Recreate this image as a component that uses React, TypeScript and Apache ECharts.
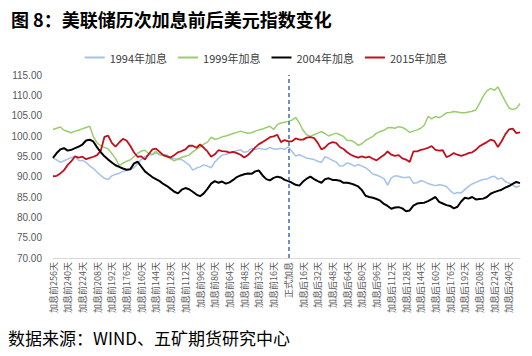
import React, { useEffect, useRef } from "react";
import * as echarts from "echarts";

// Trading-day offsets relative to the rate hike (every 4 days)
const DAY_OFFSETS: number[] = [];
for (let d = -256; d <= 252; d += 4) DAY_OFFSETS.push(d);
const CATEGORIES = DAY_OFFSETS.map((d) =>
  d < 0 ? `加息前${-d}天` : d === 0 ? "正式加息" : `加息后${d}天`
);

const TICK_LABELS = [
  "加息前256天", "加息前240天", "加息前224天", "加息前208天", "加息前192天", "加息前176天",
  "加息前160天", "加息前144天", "加息前128天", "加息前112天", "加息前96天", "加息前80天",
  "加息前64天", "加息前48天", "加息前32天", "加息前16天", "正式加息", "加息后16天",
  "加息后32天", "加息后48天", "加息后64天", "加息后80天", "加息后96天", "加息后112天",
  "加息后128天", "加息后144天", "加息后160天", "加息后176天", "加息后192天", "加息后208天",
  "加息后224天", "加息后240天",
];

const Y_TICKS = { min: 70, max: 115, step: 5 };

const S1994 = [
  94.6, 94.1, 93.5, 93.9, 94.3, 94.7, 94.9, 94.0, 94.0, 93.5,
  92.6, 92.0, 91.1, 90.3, 89.6, 89.3, 90.2, 90.6, 90.8, 91.3,
  91.5, 91.8, 92.2, 93.2, 94.2, 95.0, 95.4, 95.4, 95.8, 95.5,
  95.4, 95.3, 94.7, 94.4, 94.2, 94.2, 93.6, 92.9, 91.6, 92.1,
  92.4, 92.9, 92.6, 92.2, 93.6, 94.5, 95.3, 95.5, 95.8, 96.1,
  96.4, 96.6, 96.0, 96.2, 97.0, 96.7, 97.0, 96.8, 96.7, 97.2,
  96.8, 96.8, 97.0, 96.7, 97.3,
  96.2, 95.1, 95.4, 95.0, 94.5, 94.4, 94.2, 93.8, 93.5, 94.9,
  94.5, 94.0, 93.6, 92.6, 92.7, 93.4, 93.1, 92.6, 93.0, 92.6,
  92.2, 91.5, 90.6, 90.4, 90.0, 89.5, 87.9, 89.7, 90.2, 90.1,
  89.8, 89.8, 89.9, 88.4, 88.5, 89.0, 88.8, 88.3, 88.0, 87.8,
  88.0, 87.9, 87.6, 86.6, 85.8, 86.1, 86.0, 86.8, 87.6, 88.2,
  88.6, 89.0, 89.3, 89.4, 89.9, 90.1, 89.4, 89.7, 88.8, 88.4,
  87.9, 87.4, 87.8,
];

const S1999 = [
  101.6, 101.9, 102.2, 101.4, 101.1, 100.8, 101.2, 101.4, 101.8, 102.1,
  102.4, 99.8, 98.3, 97.6, 97.2, 96.8, 95.7, 94.5, 92.7, 93.3,
  93.8, 94.1, 94.9, 95.7, 96.3, 96.5, 95.7, 95.5, 96.2, 95.4,
  95.2, 94.9, 94.4, 93.9, 94.4, 94.7, 95.0, 95.3, 96.1, 96.7,
  97.3, 98.0, 98.5, 99.7, 99.2, 99.4, 99.8, 100.0, 100.3, 100.6,
  100.9, 101.2, 100.9, 100.7, 100.8, 101.2, 101.5, 101.7, 102.1, 102.4,
  101.6, 102.8, 103.2, 103.4, 103.6,
  103.9, 104.6, 103.2, 101.4, 100.3, 99.9, 100.3, 100.7, 101.1, 100.6,
  100.0, 100.4, 100.7, 100.3, 99.9, 98.9, 98.9, 98.5, 97.7, 98.1,
  98.9, 99.4, 99.9, 100.7, 101.1, 101.4, 102.0, 102.1, 101.9, 102.3,
  102.1, 101.6, 100.9, 101.2, 101.5, 101.9, 102.7, 104.8, 104.2, 104.8,
  104.5, 105.0, 105.7, 105.8, 106.0, 105.9, 105.7, 105.7, 105.9, 106.1,
  106.4, 108.0, 109.8, 111.1, 111.7, 111.2, 112.1, 110.3, 108.5, 106.9,
  106.5, 106.8, 108.0,
];

const S2004 = [
  94.6, 95.8, 96.7, 97.0, 96.4, 96.6, 97.0, 97.4, 97.9, 98.9,
  99.1, 98.6, 97.2, 96.0, 95.0, 94.2, 93.5, 92.8, 92.4, 92.0,
  91.7, 91.8, 93.2, 93.7, 92.5, 91.3, 90.6, 89.9, 89.4, 88.9,
  88.2, 87.7, 87.0, 86.3, 85.9, 86.8, 87.2, 86.9, 86.3, 85.6,
  85.2, 85.9, 87.0, 88.3, 88.9, 88.5, 88.8, 88.3, 88.6, 89.2,
  89.9, 90.3, 90.6, 90.8, 90.7, 91.3, 91.5, 90.3, 89.4, 89.1,
  89.7, 90.0, 89.8, 89.2, 88.9,
  88.5, 88.0, 87.8, 88.8, 89.5, 90.0, 89.4, 88.9, 88.5, 89.4,
  89.6, 89.2, 89.2, 89.0, 88.5, 88.5, 88.3, 88.0, 87.6, 86.7,
  85.3, 85.0, 84.8, 84.5, 84.1, 83.3, 82.8, 82.1, 82.4, 82.5,
  82.2, 81.5, 81.7, 82.9, 83.4, 83.5, 83.6, 84.0, 84.5, 85.0,
  83.8, 83.4, 83.0, 82.8, 82.2, 82.6, 83.9, 84.8, 84.6, 85.0,
  84.4, 84.5, 84.6, 85.0, 85.8, 86.2, 86.5, 86.8, 87.3, 87.7,
  88.2, 88.7, 88.4,
];

const S2015 = [
  90.1, 90.2, 90.8, 91.6, 92.9, 93.8, 95.0, 94.7, 94.9, 94.3,
  94.6, 94.9, 95.3, 96.4, 99.8, 100.1, 98.3, 97.4, 98.4, 99.3,
  98.9, 97.6, 96.0, 94.9, 95.0, 94.2, 95.5, 96.7, 96.9, 96.1,
  95.3, 95.0, 94.7, 95.3, 96.0, 96.3, 96.7, 97.6, 97.6, 97.1,
  97.9, 97.1, 96.2, 94.9, 95.5, 96.5, 96.3, 96.2, 95.9, 96.1,
  95.8, 95.4, 94.7, 95.3, 96.2, 97.2, 98.0, 98.5, 99.1, 99.7,
  99.9, 100.3, 98.5, 99.0, 98.7,
  98.7, 99.4, 99.1, 99.1, 99.6, 99.7, 99.5, 98.3, 96.7, 97.2,
  98.1, 98.5, 98.3, 97.3, 96.8, 96.0, 95.4, 95.0, 94.7, 95.0,
  94.7, 94.9, 94.4, 94.0, 94.7, 95.3, 96.2, 95.4, 95.1, 95.3,
  94.5, 94.2, 93.6, 96.2, 96.2, 96.6, 96.8, 97.1, 97.5, 96.6,
  96.4, 96.5, 94.8, 95.2, 95.8, 95.4, 95.1, 95.4, 95.8, 96.0,
  96.6, 97.5, 98.0, 98.5, 99.1, 98.8, 97.3, 98.7, 100.4, 101.6,
  101.8, 100.7, 100.9,
];

const SERIES_NAMES = ["1994年加息", "1999年加息", "2004年加息", "2015年加息"];
const SERIES_DATA = [S1994, S1999, S2004, S2015];
const COLORS = ["#A4C2EA", "#9ACD6E", "#000000", "#C0101C"];
const WIDTHS = [1.5, 1.5, 2, 1.8];

const TITLE = "图 8：美联储历次加息前后美元指数变化";
const SOURCE = "数据来源：WIND、五矿期货研究中心";
const CJK = "'Noto Sans CJK SC', 'Noto Sans', sans-serif";

export default function App() {
  const ref = useRef<HTMLDivElement>(null);
  useEffect(() => {
    document.body.style.margin = "0";
    if (!ref.current) return;
    const chart = echarts.init(ref.current, undefined, { renderer: "svg" });
    const series: any[] = SERIES_NAMES.map((name, k) => ({
      name,
      type: "line",
      data: SERIES_DATA[k],
      showSymbol: false,
      symbol: "none",
      smooth: false,
      lineStyle: { color: COLORS[k], width: WIDTHS[k] },
      itemStyle: { color: COLORS[k] },
      z: k === 2 ? 4 : 3,
    }));
    series[0].markLine = {
      silent: true,
      symbol: ["none", "none"],
      label: { show: false },
      lineStyle: { type: [4, 3], color: "#3E6CB8", width: 1.5 },
      data: [{ xAxis: "正式加息" }],
    };
    chart.setOption({
      animation: false,
      backgroundColor: "#ffffff",
      textStyle: { fontFamily: CJK },
      title: {
        text: TITLE,
        left: 6,
        top: 5,
        textStyle: { fontSize: 18, fontWeight: "bold", color: "#000", fontFamily: CJK },
      },
      legend: {
        top: 47,
        left: "center",
        icon: "rect",
        itemWidth: 20,
        itemHeight: 2,
        itemGap: 11,
        data: SERIES_NAMES,
        textStyle: { fontSize: 11, color: "#404040", fontFamily: CJK },
      },
      grid: { left: 53, right: 12, top: 75, bottom: 98 },
      xAxis: {
        type: "category",
        boundaryGap: false,
        data: CATEGORIES,
        axisLine: { lineStyle: { color: "#D9D9D9", width: 1 } },
        axisTick: { show: false },
        splitLine: { show: false },
        axisLabel: {
          rotate: 90,
          interval: (_i: number, v: string) => TICK_LABELS.includes(v),
          fontSize: 9,
          color: "#595959",
          margin: 4,
          fontFamily: CJK,
        },
      },
      yAxis: {
        type: "value",
        min: Y_TICKS.min,
        max: Y_TICKS.max,
        interval: Y_TICKS.step,
        splitLine: { show: false },
        axisLine: { show: false },
        axisTick: { show: false },
        axisLabel: {
          formatter: (v: number) => v.toFixed(2),
          fontSize: 10,
          color: "#595959",
          margin: 11,
          fontFamily: "'Liberation Sans', Arial, sans-serif",
        },
      },
      graphic: [
        {
          type: "text",
          left: 8,
          top: 329,
          style: { text: SOURCE, fontSize: 17, fill: "#000", fontFamily: CJK },
        },
      ],
      series,
    });
    return () => chart.dispose();
  }, []);
  return (
    <div
      ref={ref}
      style={{ position: "absolute", left: 0, top: 0, width: 532, height: 356, background: "#fff" }}
    />
  );
}
